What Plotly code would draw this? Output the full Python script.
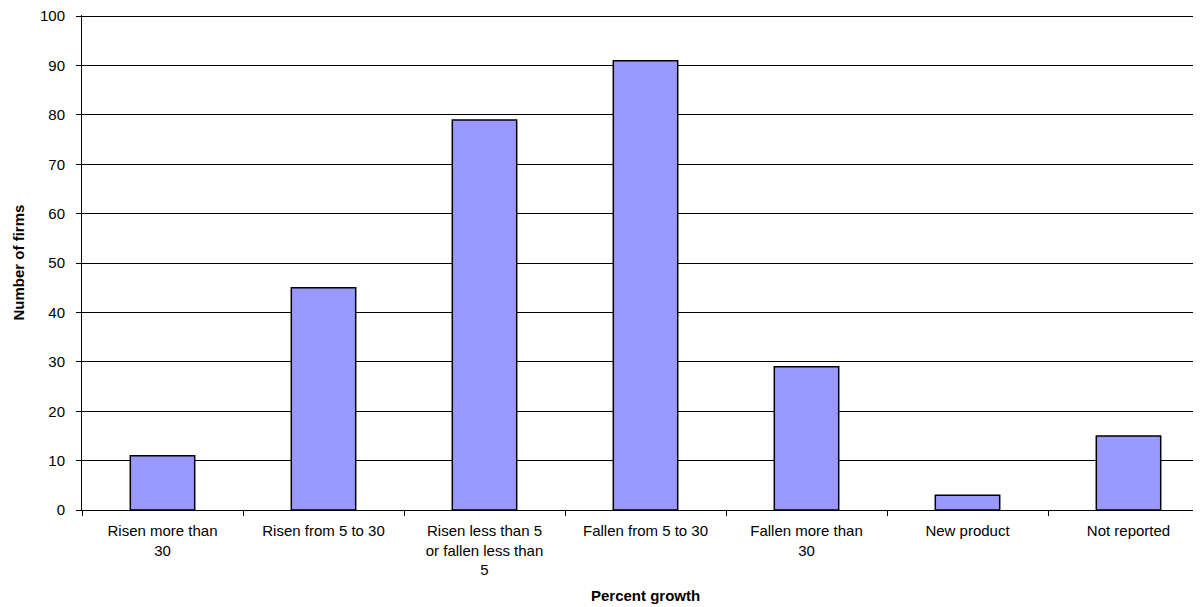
import plotly.graph_objects as go

categories = [
    "Risen more than<br>30",
    "Risen from 5 to 30",
    "Risen less than 5<br>or fallen less than<br>5",
    "Fallen from 5 to 30",
    "Fallen more than<br>30",
    "New product",
    "Not reported",
]
firms = [11, 45, 79, 91, 29, 3, 15]
y_ticks = [0, 10, 20, 30, 40, 50, 60, 70, 80, 90, 100]

FONT = "Arial, Liberation Sans, sans-serif"

# page body has an 8px margin: the figure starts at (8, 8) in the window
fig = go.Figure(
    go.Bar(
        x=categories,
        y=firms,
        width=0.4,
        marker=dict(color="#9999FF", line=dict(color="#000000", width=1.5)),
    )
)

fig.update_layout(
    width=1201,
    height=607,
    margin=dict(l=74, r=0, t=7, b=105),
    paper_bgcolor="white",
    plot_bgcolor="white",
    showlegend=False,
    font=dict(family=FONT, color="#000000"),
)

fig.update_xaxes(
    range=[-0.5, 6.5],
    showgrid=False,
    showline=True,
    linecolor="#000000",
    linewidth=1,
    ticks="outside",
    tickson="boundaries",
    ticklen=5,
    tickcolor="#000000",
    tickfont=dict(family=FONT, size=15, color="#000000"),
    ticklabelstandoff=7,
)

fig.update_yaxes(
    range=[0, 100.25],
    tickvals=y_ticks,
    showgrid=True,
    gridcolor="#000000",
    gridwidth=1,
    showline=True,
    linecolor="#000000",
    linewidth=1,
    ticks="outside",
    ticklen=5,
    tickcolor="#000000",
    tickfont=dict(family=FONT, size=15, color="#000000"),
    ticklabelstandoff=8,
    ticklabeloverflow="allow",
    zeroline=False,
)

plot_h = 607 - 7 - 105
fig.add_annotation(
    text="<b>Percent growth</b>",
    xref="paper", yref="paper",
    x=0.5, y=-(587 - 502) / plot_h,
    xanchor="center", yanchor="middle",
    showarrow=False,
    font=dict(family=FONT, size=15, color="#000000"),
)
fig.add_annotation(
    text="<b>Number of firms</b>",
    xref="paper", yref="paper",
    x=-(74 - 10) / (1201 - 74), y=0.5,
    xanchor="center", yanchor="middle",
    textangle=-90,
    showarrow=False,
    font=dict(family=FONT, size=15, color="#000000"),
)

fig.write_html("out.html", config={"displayModeBar": False})
